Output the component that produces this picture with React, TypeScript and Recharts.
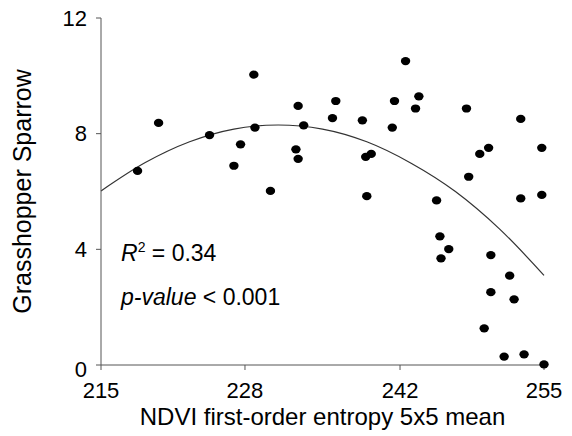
import { ComposedChart, Scatter, Line, XAxis, YAxis, Customized } from "recharts"

// NDVI entropy (x) vs Grasshopper Sparrow abundance (y)
const entropy = [
  218.3, 220.2, 224.8, 227.0, 227.6, 228.8, 228.9, 230.3, 232.6, 232.8,
  232.8, 233.3, 235.9, 236.2, 238.6, 238.9, 239.0, 239.4, 241.3, 241.5,
  242.5, 243.4, 243.7, 245.3, 245.6, 245.7, 246.4, 248.0, 248.2, 249.2,
  249.6, 250.0, 250.2, 250.2, 251.4, 251.9, 252.3, 252.9, 252.9, 253.2,
  254.8, 254.8, 255.0,
]
const sparrow = [
  6.71, 8.37, 7.95, 6.89, 7.63, 10.04, 8.21, 6.02, 7.46, 8.96,
  7.13, 8.29, 8.54, 9.13, 8.46, 7.20, 5.84, 7.30, 8.21, 9.13,
  10.51, 8.87, 9.29, 5.69, 4.45, 3.69, 4.01, 8.87, 6.51, 7.30,
  1.27, 7.51, 3.80, 2.52, 0.29, 3.09, 2.27, 8.51, 5.76, 0.37,
  7.51, 5.88, 0.02,
]

// quadratic trend line, sampled from the drawn curve
const fitX = [215, 219, 223, 227, 231, 235, 239, 243, 247, 251, 255]
const fitY = [6.02, 7.0, 7.72, 8.16, 8.3, 8.16, 7.72, 6.98, 6.0, 4.7, 3.1]

const xTicks = [215, 228, 242, 255]
const yTicks = [0, 4, 8, 12]

const points = entropy.map((x, i) => ({ x, y: sparrow[i] }))
const fit = fitX.map((x, i) => ({ x, y: fitY[i] }))

const FONT = "'Liberation Sans', Arial, sans-serif"
const AXIS = "#555"

const Dot = (props: any) => {
  const { cx, cy } = props
  if (cx == null || cy == null) return null
  return <ellipse cx={cx} cy={cy} rx={4.7} ry={4.1} fill="#000" />
}

// the "0" label sits a little below the axis in the original
const YTick = (props: any) => {
  const { x, y, payload } = props
  const dy = payload.value === 0 ? 4 : 0
  return (
    <text x={x} y={y + dy} dy="0.355em" textAnchor="end" fill="#000" fontSize={22} fontFamily={FONT}>
      {payload.value}
    </text>
  )
}

const Stats = () => (
  <g fontFamily={FONT} fontSize={23} fill="#000">
    <text x={121} y={261}>
      <tspan fontStyle="italic">R</tspan>
      <tspan fontSize={14} dy={-9}>2</tspan>
      <tspan dy={9}> = 0.34</tspan>
    </text>
    <text x={121} y={305}>
      <tspan fontStyle="italic">p-value</tspan>
      <tspan> &lt; 0.001</tspan>
    </text>
  </g>
)

export default function App() {
  return (
    <div style={{ position: "absolute", left: 0, top: 0, background: "#fff" }}>
      <ComposedChart width={572} height={436} margin={{ top: 18, right: 28, bottom: 0, left: 0 }}>
        <XAxis
          type="number"
          dataKey="x"
          domain={[215, 255]}
          ticks={xTicks}
          interval={0}
          height={71}
          stroke={AXIS}
          tickSize={5}
          tickMargin={12}
          tick={{ fill: "#000", fontSize: 22, fontFamily: FONT }}
          label={{
            value: "NDVI first-order entropy 5x5 mean",
            position: "insideBottom",
            offset: 11,
            fill: "#000",
            fontSize: 24,
            fontFamily: FONT,
          }}
        />
        <YAxis
          type="number"
          dataKey="y"
          domain={[0, 12]}
          ticks={yTicks}
          interval={0}
          width={101}
          stroke={AXIS}
          tickSize={5}
          tickMargin={9}
          tick={<YTick />}
          label={{
            value: "Grasshopper Sparrow",
            angle: -90,
            position: "insideLeft",
            offset: 22,
            fill: "#000",
            fontSize: 25,
            fontFamily: FONT,
            style: { textAnchor: "middle" },
          }}
        />
        <Line
          data={fit}
          dataKey="y"
          type="monotone"
          stroke="#333"
          strokeWidth={1.2}
          dot={false}
          activeDot={false}
          isAnimationActive={false}
        />
        <Scatter data={points} fill="#000" shape={<Dot />} isAnimationActive={false} />
        <Customized component={Stats} />
      </ComposedChart>
    </div>
  )
}
